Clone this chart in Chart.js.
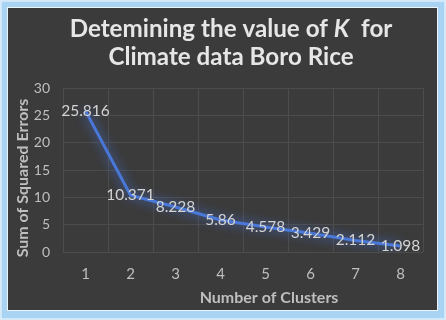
<!DOCTYPE html>
<html>
<head>
<meta charset="utf-8">
<script src="https://cdn.jsdelivr.net/npm/chart.js@4"></script>
<style>
  html, body { margin: 0; padding: 0; }
  body {
    width: 446px; height: 320px; overflow: hidden;
    background: #dcedf9;
  }
  .frame {
    position: absolute; left: 2px; top: 2px; width: 442px; height: 316px;
    background: #a9d3f2;
    box-shadow: 0 0 3px 1px #c8e4f8;
  }
  .panel {
    position: absolute; left: 8px; top: 8px; width: 429px; height: 302px;
    background: #3b3b3b;
    outline: 1px solid #eaf5fd;
  }
  canvas { display: block; }
</style>
</head>
<body>
<div class="frame"></div>
<div class="panel"><canvas id="c" width="429" height="302"></canvas></div>
<script>
const clusters = ['1', '2', '3', '4', '5', '6', '7', '8'];
const sse = [25.816, 10.371, 8.228, 5.86, 4.578, 3.429, 2.112, 1.098];
const sseLabels = ['25.816', '10.371', '8.228', '5.86', '4.578', '3.429', '2.112', '1.098'];

const FONT = 'Lato, "Open Sans", sans-serif';

// glow under the line
const glow = {
  id: 'glow',
  beforeDatasetDraw(chart) {
    const ctx = chart.ctx;
    ctx.save();
    ctx.shadowColor = 'rgba(70,120,235,0.95)';
    ctx.shadowBlur = 11;
  },
  afterDatasetDraw(chart) {
    chart.ctx.restore();
  }
};

// value labels centred on each point
const valueLabels = {
  id: 'valueLabels',
  afterDatasetsDraw(chart) {
    const ctx = chart.ctx;
    const meta = chart.getDatasetMeta(0);
    ctx.save();
    ctx.font = '15.5px ' + FONT;
    ctx.fillStyle = '#d4d4d4';
    ctx.textAlign = 'center';
    ctx.textBaseline = 'middle';
    meta.data.forEach((pt, i) => {
      ctx.fillText(sseLabels[i], pt.x, pt.y);
    });
    ctx.restore();
  }
};

// title (italic K) and axis titles, drawn by hand so they sit where Excel put them
const texts = {
  id: 'texts',
  afterDraw(chart) {
    const ctx = chart.ctx;
    const cx = 223;
    const f = 'bold 24.2px ' + FONT;
    ctx.save();
    ctx.fillStyle = '#e6e6e6';
    ctx.textBaseline = 'alphabetic';
    ctx.textAlign = 'left';
    const parts = [['Detemining the value of ', ''], ['K', 'italic '], ['  for', '']];
    let w = 0;
    parts.forEach(p => { ctx.font = p[1] + f; w += ctx.measureText(p[0]).width; });
    let x = cx - w / 2;
    parts.forEach(p => {
      ctx.font = p[1] + f;
      ctx.fillText(p[0], x, 28.5);
      x += ctx.measureText(p[0]).width;
    });
    ctx.font = f;
    ctx.textAlign = 'center';
    ctx.fillText('Climate data Boro Rice', cx, 57);

    ctx.fillStyle = '#bfbfbf';
    ctx.font = 'bold 16px ' + FONT;
    ctx.textBaseline = 'middle';
    ctx.fillText('Number of Clusters', 261, 290);
    ctx.translate(15, 170);
    ctx.rotate(-Math.PI / 2);
    ctx.fillText('Sum of Squared Errors', 0, 0);
    ctx.restore();
  }
};

new Chart(document.getElementById('c'), {
  type: 'line',
  data: {
    labels: clusters,
    datasets: [{
      data: sse,
      borderColor: '#4a78d8',
      borderWidth: 3,
      pointRadius: 0,
      tension: 0
    }]
  },
  options: {
    responsive: false,
    animation: false,
    layout: { padding: { left: 5, right: 14, top: 80, bottom: 14 } },
    plugins: {
      legend: { display: false },
      tooltip: { enabled: false },
      title: { display: false }
    },
    scales: {
      x: {
        offset: true,
        grid: { offset: true, color: '#4c4c4c', drawTicks: false },
        border: { display: false },
        ticks: { color: '#bfbfbf', font: { family: FONT, size: 15 }, padding: 13 },
        title: { display: false }
      },
      y: {
        min: 0, max: 30,
        afterFit(scale) { scale.width = 50; },
        grid: { color: '#4c4c4c', drawTicks: false },
        border: { display: false },
        ticks: { stepSize: 5, color: '#bfbfbf', font: { family: FONT, size: 14 }, padding: 13 },
        title: { display: false }
      }
    }
  },
  plugins: [glow, valueLabels, texts]
});
</script>
</body>
</html>
